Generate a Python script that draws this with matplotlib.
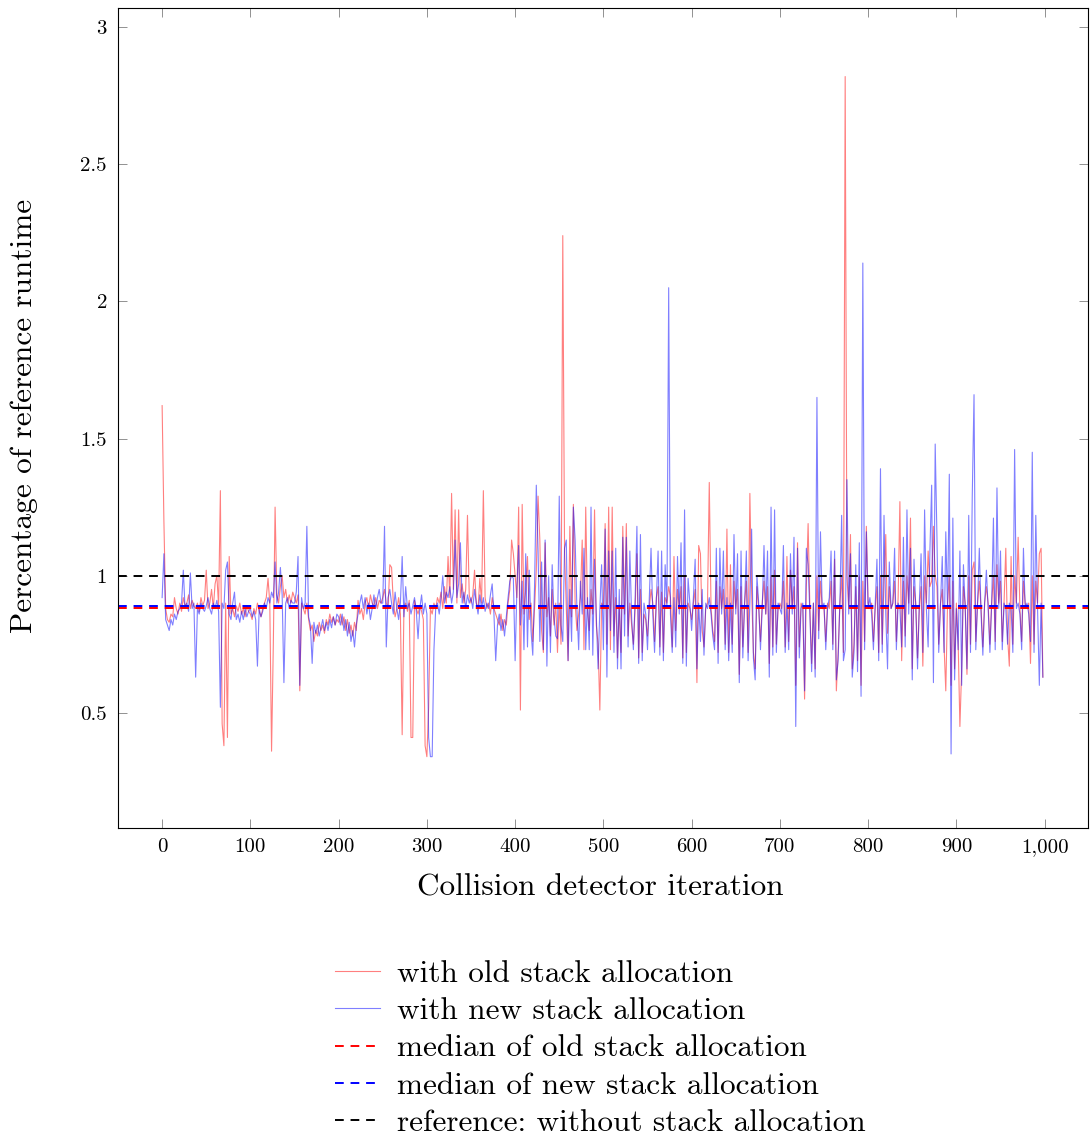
import numpy as np
from matplotlib import pyplot as plt

plt.rcParams.update({'font.family': 'serif', 'font.serif': ['cmr10'],
                     'axes.formatter.use_mathtext': True,
                     'mathtext.fontset': 'cm'})

# iterations (every 2nd sample of the run)
x = np.arange(0, 1000, 2)

# runtime relative to reference, old stack allocation (50 iterations per row)
old_alloc = [
    1.62, 1.20, 0.88, 0.84, 0.83, 0.86, 0.85, 0.92, 0.88, 0.86, 0.90, 0.87, 0.92, 0.89, 0.90, 0.93, 0.88, 0.91, 0.89, 0.88, 0.90, 0.87, 0.92, 0.89, 0.91,
    1.02, 0.88, 0.90, 0.95, 0.88, 0.97, 1.00, 0.89, 1.31, 0.46, 0.38, 0.90, 0.41, 1.07, 0.86, 0.88, 0.85, 0.89, 0.87, 0.90, 0.86, 0.88, 0.85, 0.89, 0.87,
    0.86, 0.84, 0.88, 0.86, 0.90, 0.87, 0.85, 0.88, 0.90, 0.92, 0.99, 0.90, 0.36, 0.75, 1.25, 0.93, 0.90, 0.96, 1.00, 0.92, 0.95, 0.90, 0.93, 0.90, 0.94,
    0.92, 0.90, 0.93, 0.58, 0.90, 0.88, 0.86, 0.90, 0.84, 0.80, 0.82, 0.76, 0.80, 0.78, 0.83, 0.80, 0.82, 0.79, 0.84, 0.82, 0.86, 0.83, 0.85, 0.82, 0.84,
    0.83, 0.86, 0.82, 0.85, 0.80, 0.84, 0.79, 0.82, 0.78, 0.83, 0.80, 0.91, 0.86, 0.88, 0.84, 0.90, 0.92, 0.88, 0.93, 0.90, 0.89, 0.92, 0.88, 0.91, 0.90,
    0.92, 0.95, 0.90, 0.88, 1.04, 1.03, 0.90, 0.85, 0.88, 0.92, 0.86, 0.42, 0.88, 0.90, 0.87, 0.91, 0.41, 0.41, 0.91, 0.88, 0.86, 0.89, 0.87, 0.84, 0.38,
    0.34, 0.52, 0.88, 0.86, 0.90, 0.88, 0.92, 0.90, 0.94, 0.88, 0.96, 0.90, 1.07, 0.92, 1.30, 0.95, 1.24, 0.90, 1.24, 0.92, 0.97, 0.90, 0.95, 1.22, 0.93,
    0.90, 0.93, 1.02, 0.90, 0.88, 0.99, 0.90, 1.31, 0.92, 0.88, 0.90, 0.86, 0.92, 0.88, 0.86, 0.84, 0.82, 0.86, 0.80, 0.84, 0.82, 0.90, 0.95, 1.13, 1.08,
    1.00, 0.92, 1.25, 0.51, 1.26, 0.86, 0.95, 1.07, 0.84, 0.90, 0.76, 0.88, 1.02, 1.29, 1.13, 0.80, 0.72, 1.12, 0.85, 0.92, 0.78, 0.95, 0.82, 0.90, 0.72,
    0.90, 0.75, 2.24, 1.09, 0.88, 0.69, 1.18, 0.85, 1.26, 0.90, 0.80, 0.86, 0.92, 1.13, 0.73, 1.25, 0.88, 0.80, 0.95, 0.86, 1.24, 0.82, 0.75, 0.51, 0.90,
    0.88, 1.19, 0.75, 1.25, 0.73, 1.25, 0.78, 0.92, 0.70, 0.88, 0.72, 1.18, 0.86, 1.19, 0.78, 0.90, 0.82, 0.75, 0.88, 1.08, 0.70, 0.95, 0.72, 0.86, 0.84,
    0.78, 0.88, 0.95, 0.90, 0.76, 0.92, 0.96, 0.74, 0.94, 0.72, 0.92, 0.90, 0.96, 0.92, 0.74, 1.07, 0.80, 0.95, 0.88, 0.96, 0.70, 1.00, 0.72, 0.90, 0.88,
    0.84, 0.90, 0.95, 0.61, 1.11, 1.08, 0.80, 0.74, 0.88, 0.90, 1.34, 0.88, 0.80, 0.76, 0.98, 0.72, 0.96, 0.88, 0.95, 0.75, 1.17, 0.72, 1.04, 0.75, 0.98,
    0.88, 0.95, 0.64, 0.96, 0.74, 0.90, 0.98, 0.72, 1.30, 0.94, 0.72, 0.66, 0.96, 0.88, 0.76, 0.90, 0.98, 0.86, 0.96, 0.68, 1.00, 0.74, 1.02, 0.75, 0.88,
    0.90, 0.88, 0.98, 0.74, 1.07, 0.76, 1.02, 0.88, 0.96, 0.60, 1.12, 0.74, 0.90, 0.88, 0.55, 0.96, 1.19, 0.88, 0.68, 0.90, 0.66, 1.00, 0.80, 0.98, 0.88,
    0.88, 0.76, 0.90, 0.88, 0.98, 0.75, 1.06, 0.58, 0.72, 0.90, 1.00, 0.72, 2.82, 1.00, 0.88, 1.15, 0.66, 0.75, 0.96, 0.69, 1.00, 0.60, 0.98, 0.76, 1.18,
    0.90, 0.88, 0.90, 0.76, 0.88, 0.96, 0.72, 1.00, 0.75, 0.98, 1.15, 0.79, 0.96, 0.88, 0.90, 0.98, 0.76, 0.92, 1.27, 0.69, 0.98, 0.78, 1.00, 0.90, 1.21,
    0.66, 0.96, 0.90, 0.70, 0.88, 0.96, 0.67, 1.00, 0.90, 1.09, 0.96, 0.98, 1.18, 1.00, 0.96, 0.75, 0.90, 0.95, 0.75, 0.58, 0.90, 1.00, 0.60, 0.98, 0.66,
    0.90, 0.76, 0.45, 0.66, 0.96, 0.90, 0.64, 1.00, 0.75, 1.02, 1.05, 0.76, 0.90, 0.98, 0.88, 0.74, 0.90, 0.96, 0.90, 0.75, 0.90, 1.00, 0.76, 1.04, 0.90,
    0.98, 0.76, 0.90, 1.10, 0.78, 0.67, 1.07, 0.75, 1.00, 0.90, 1.14, 0.88, 0.76, 0.98, 0.90, 0.88, 0.90, 0.68, 1.00, 0.75, 0.98, 0.90, 1.08, 1.10, 0.63,
]

# runtime relative to reference, new stack allocation
new_alloc = [
    0.92, 1.08, 0.84, 0.82, 0.80, 0.84, 0.82, 0.86, 0.84, 0.87, 0.88, 0.90, 1.02, 0.88, 0.90, 0.87, 1.01, 0.88, 0.90, 0.63, 0.88, 0.86, 0.90, 0.88, 0.87,
    0.89, 0.92, 0.88, 0.86, 0.90, 0.88, 0.91, 0.87, 0.52, 0.90, 0.88, 1.02, 1.05, 0.86, 0.84, 0.90, 0.94, 0.84, 0.86, 0.83, 0.87, 0.84, 0.88, 0.85, 0.87,
    0.88, 0.85, 0.87, 0.84, 0.67, 0.88, 0.85, 0.87, 0.90, 0.88, 0.92, 0.90, 0.94, 0.92, 1.05, 0.90, 0.94, 1.03, 0.93, 0.61, 0.90, 0.92, 0.88, 0.91, 0.90,
    0.90, 0.94, 1.07, 0.60, 0.92, 0.88, 0.90, 1.18, 0.85, 0.82, 0.68, 0.83, 0.79, 0.82, 0.78, 0.81, 0.84, 0.80, 0.83, 0.80, 0.84, 0.81, 0.85, 0.82, 0.86,
    0.85, 0.82, 0.86, 0.80, 0.84, 0.78, 0.83, 0.76, 0.80, 0.74, 0.82, 0.86, 0.90, 0.93, 0.88, 0.92, 0.86, 0.90, 0.84, 0.88, 0.93, 0.88, 0.92, 0.95, 0.90,
    0.90, 1.18, 0.74, 0.92, 0.95, 0.90, 0.86, 0.94, 0.88, 0.84, 0.90, 1.07, 0.85, 0.96, 0.88, 0.90, 0.86, 0.89, 0.92, 0.87, 0.77, 0.88, 0.93, 0.86, 0.90,
    0.86, 0.41, 0.34, 0.34, 0.73, 0.88, 0.90, 0.86, 0.92, 1.00, 0.90, 0.94, 0.92, 0.96, 0.90, 0.94, 1.13, 0.92, 0.97, 1.12, 0.90, 0.94, 0.88, 0.93, 0.90,
    0.92, 0.88, 0.95, 0.90, 0.86, 0.93, 0.88, 0.92, 0.87, 0.90, 0.88, 0.93, 0.97, 0.86, 0.69, 0.82, 0.86, 0.80, 0.84, 0.78, 0.85, 0.92, 0.98, 1.00, 0.99,
    0.69, 0.95, 1.11, 0.82, 0.98, 0.73, 1.08, 0.74, 1.02, 0.80, 0.71, 0.96, 1.33, 1.09, 0.76, 1.05, 0.73, 1.13, 0.67, 1.00, 0.72, 1.04, 0.85, 0.78, 0.77,
    1.29, 0.82, 0.76, 1.10, 1.13, 0.69, 0.95, 0.76, 1.25, 1.13, 0.88, 0.73, 0.98, 0.86, 1.10, 0.73, 0.92, 0.73, 1.25, 0.71, 1.06, 0.85, 0.66, 0.88, 1.04,
    0.73, 1.17, 0.63, 1.09, 0.80, 1.09, 0.72, 1.10, 0.66, 0.95, 0.66, 1.14, 0.78, 1.14, 0.74, 1.09, 0.85, 0.73, 0.92, 1.18, 0.68, 1.15, 0.69, 0.90, 0.86,
    0.73, 0.92, 1.10, 0.86, 0.72, 0.90, 1.09, 0.71, 1.09, 0.69, 1.04, 0.88, 2.05, 0.86, 0.72, 0.92, 0.74, 1.07, 0.86, 1.12, 0.68, 1.24, 0.67, 0.99, 0.90,
    0.80, 0.92, 1.06, 0.66, 0.90, 0.76, 0.95, 0.71, 0.90, 0.88, 0.92, 0.86, 0.78, 0.73, 1.10, 0.68, 1.10, 0.86, 1.09, 0.73, 0.92, 0.69, 0.90, 0.72, 1.15,
    0.86, 1.08, 0.61, 1.09, 0.70, 0.90, 1.09, 0.69, 0.90, 1.17, 0.70, 0.62, 1.00, 0.90, 0.73, 0.88, 1.11, 0.86, 1.09, 0.63, 1.25, 0.71, 1.24, 0.72, 0.90,
    0.88, 0.86, 1.11, 0.72, 0.90, 0.73, 1.08, 0.86, 1.14, 0.45, 1.10, 0.70, 0.88, 0.90, 0.58, 1.10, 1.04, 0.86, 0.65, 0.90, 0.63, 1.65, 0.77, 1.16, 0.88,
    0.90, 0.73, 0.88, 0.92, 1.09, 0.73, 1.09, 0.62, 0.69, 0.90, 1.22, 0.69, 0.73, 1.35, 0.86, 1.08, 0.63, 0.72, 1.04, 0.65, 1.12, 0.56, 2.14, 0.73, 1.16,
    0.88, 0.92, 0.86, 0.73, 0.90, 1.06, 0.69, 1.39, 0.72, 1.22, 0.86, 0.66, 1.05, 0.88, 0.90, 1.10, 0.73, 0.90, 0.88, 0.74, 1.14, 0.74, 1.24, 0.86, 1.10,
    0.62, 1.06, 0.88, 0.66, 0.90, 1.08, 0.72, 1.24, 0.88, 0.74, 1.09, 1.33, 0.61, 1.48, 1.14, 0.72, 0.90, 1.07, 0.72, 1.16, 0.88, 1.37, 0.35, 1.21, 0.62,
    0.88, 0.73, 1.09, 0.60, 1.04, 0.88, 0.66, 1.22, 0.72, 1.29, 1.66, 0.73, 0.90, 1.10, 0.86, 0.71, 0.90, 1.02, 0.88, 0.72, 0.90, 1.21, 0.73, 1.32, 0.88,
    1.09, 0.73, 0.90, 0.88, 0.75, 0.90, 0.88, 0.72, 1.46, 0.88, 0.90, 0.86, 0.73, 1.10, 0.88, 0.90, 0.86, 0.76, 1.45, 0.72, 1.22, 0.88, 0.60, 0.90, 0.63,
]

median_old = 0.8835
median_new = 0.8895
reference = 1.0

labels = ["with old stack allocation", "with new stack allocation",
          "median of old stack allocation", "median of new stack allocation",
          "reference: without stack allocation"]

fig = plt.figure(figsize=(10.9, 11.4), dpi=100)
ax = fig.add_axes([0.1083, 0.2737, 0.8897, 0.7193])

ax.plot(x, old_alloc, color="red", alpha=0.5, lw=0.8, label=labels[0])
ax.plot(x, new_alloc, color="blue", alpha=0.5, lw=0.8, label=labels[1])
ax.axhline(median_old, color="red", lw=1.4, dashes=(4.5, 3.5), label=labels[2])
ax.axhline(median_new, color="blue", lw=1.4, dashes=(4.5, 3.5), label=labels[3])
ax.axhline(reference, color="black", lw=1.4, dashes=(4.5, 3.5), label=labels[4])

ax.set_xlim(-49.95, 1048.95)
ax.set_ylim(0.08, 3.07)
xt = np.arange(0, 1001, 100)
ax.set_xticks(xt)
ax.set_xticklabels([f"{v:,}" for v in xt])
yt = [0.5, 1, 1.5, 2, 2.5, 3]
ax.set_yticks(yt)
ax.set_yticklabels(["0.5", "1", "1.5", "2", "2.5", "3"])
ax.tick_params(direction="in", top=True, right=True, length=6.5, width=0.6,
               color="0.5", labelsize=15)
ax.tick_params(axis="x", pad=7)
ax.tick_params(axis="y", pad=8)
for s in ax.spines.values():
    s.set_linewidth(0.8)

fig.text(600 / 1090, 1 - 888 / 1140, "Collision detector iteration",
         fontsize=22.5, ha="center", va="center")
fig.text(24 / 1090, 1 - 416 / 1140, "Percentage of reference runtime",
         fontsize=22.5, ha="center", va="center", rotation=90)

fig.legend(loc="upper center", bbox_to_anchor=(0.5505, 0.158), frameon=False,
           fontsize=22.5, handlelength=1.44, handletextpad=0.54, labelspacing=0.3,
           borderaxespad=0, borderpad=0)

plt.savefig("out.png")
